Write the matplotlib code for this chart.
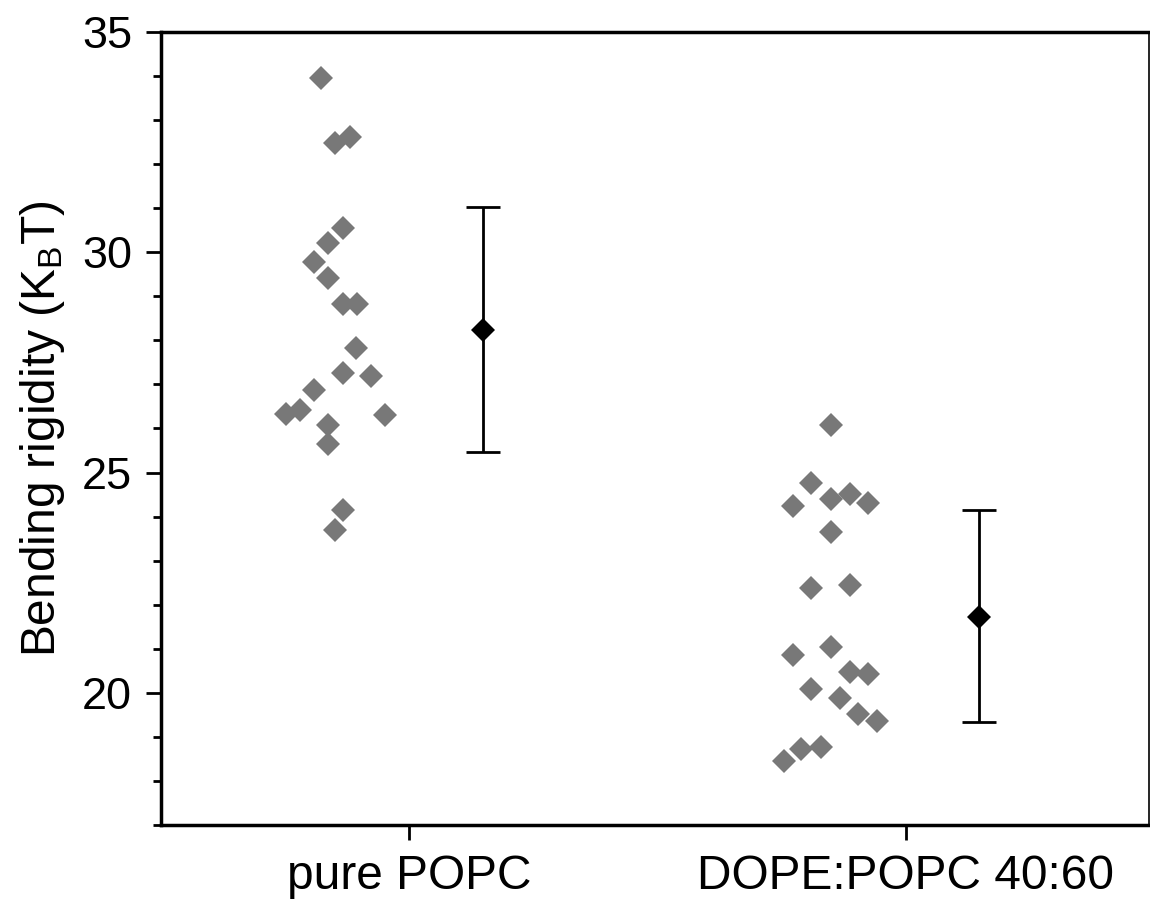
import matplotlib
matplotlib.use("Agg")
import matplotlib.pyplot as plt
from matplotlib.ticker import MultipleLocator

plt.rcParams["font.family"] = ["Liberation Sans", "DejaVu Sans"]
plt.rcParams["mathtext.fontset"] = "custom"
plt.rcParams["mathtext.rm"] = "Liberation Sans"

categories = ["pure POPC", "DOPE:POPC 40:60"]

popc_x = [0.823, 0.851, 0.881, 0.866, 0.837, 0.809, 0.837, 0.866, 0.895, 0.893,
          0.866, 0.923, 0.809, 0.751, 0.780, 0.952, 0.837, 0.837, 0.866, 0.851]
popc_y = [33.95, 32.47, 32.61, 30.54, 30.20, 29.78, 29.42, 28.83, 28.83, 27.83,
          27.26, 27.20, 26.88, 26.32, 26.42, 26.31, 26.09, 25.65, 24.15, 23.70]

dope_x = [1.849, 1.810, 1.773, 1.849, 1.887, 1.924, 1.849, 1.810, 1.887, 1.773,
          1.849, 1.887, 1.924, 1.810, 1.867, 1.905, 1.943, 1.790, 1.830, 1.755]
dope_y = [26.07, 24.76, 24.23, 24.39, 24.52, 24.31, 23.66, 22.39, 22.45, 20.86,
          21.05, 20.48, 20.42, 20.08, 19.89, 19.52, 19.35, 18.72, 18.76, 18.45]

# mean +/- sd
mean_x = [1.148, 2.148]
mean_y = [28.23, 21.72]
err_lo = [2.77, 2.38]
err_hi = [2.79, 2.43]

fig = plt.figure(figsize=(11.5, 9.08), dpi=100)
ax = fig.add_axes([0.140, 0.0914, 0.859, 0.8734])

for xs, ys in [(popc_x, popc_y), (dope_x, dope_y)]:
    ax.plot(xs, ys, "D", color="#787878", markersize=11.8, markeredgewidth=0,
            linestyle="none")
ax.errorbar(mean_x, mean_y, yerr=[err_lo, err_hi], fmt="none", ecolor="black",
            elinewidth=2.0, capsize=12, capthick=2.0)
ax.plot(mean_x, mean_y, "D", color="black", markersize=12.5, markeredgewidth=0,
        linestyle="none", zorder=4)

ax.set_xlim(0.5, 2.49)
ax.set_ylim(17, 35)
ax.set_xticks([1, 2])
ax.set_xticklabels(categories)
ax.yaxis.set_major_locator(MultipleLocator(5))
ax.yaxis.set_minor_locator(MultipleLocator(1))

for side in ["left", "bottom", "top", "right"]:
    ax.spines[side].set_linewidth(2.5)
ax.spines["right"].set_linewidth(1.2)
ax.tick_params(axis="both", which="major", direction="out", length=10.8, width=2.0)
ax.tick_params(axis="x", labelsize=34.5, pad=10)
ax.tick_params(axis="y", labelsize=32.5, pad=10)
ax.tick_params(axis="y", which="minor", direction="out", length=5.5, width=2.0)
ax.set_ylabel(r"Bending rigidity (K$_\mathregular{B}$T)", fontsize=34.5, labelpad=11)

fig.savefig("out.png", dpi=100)
